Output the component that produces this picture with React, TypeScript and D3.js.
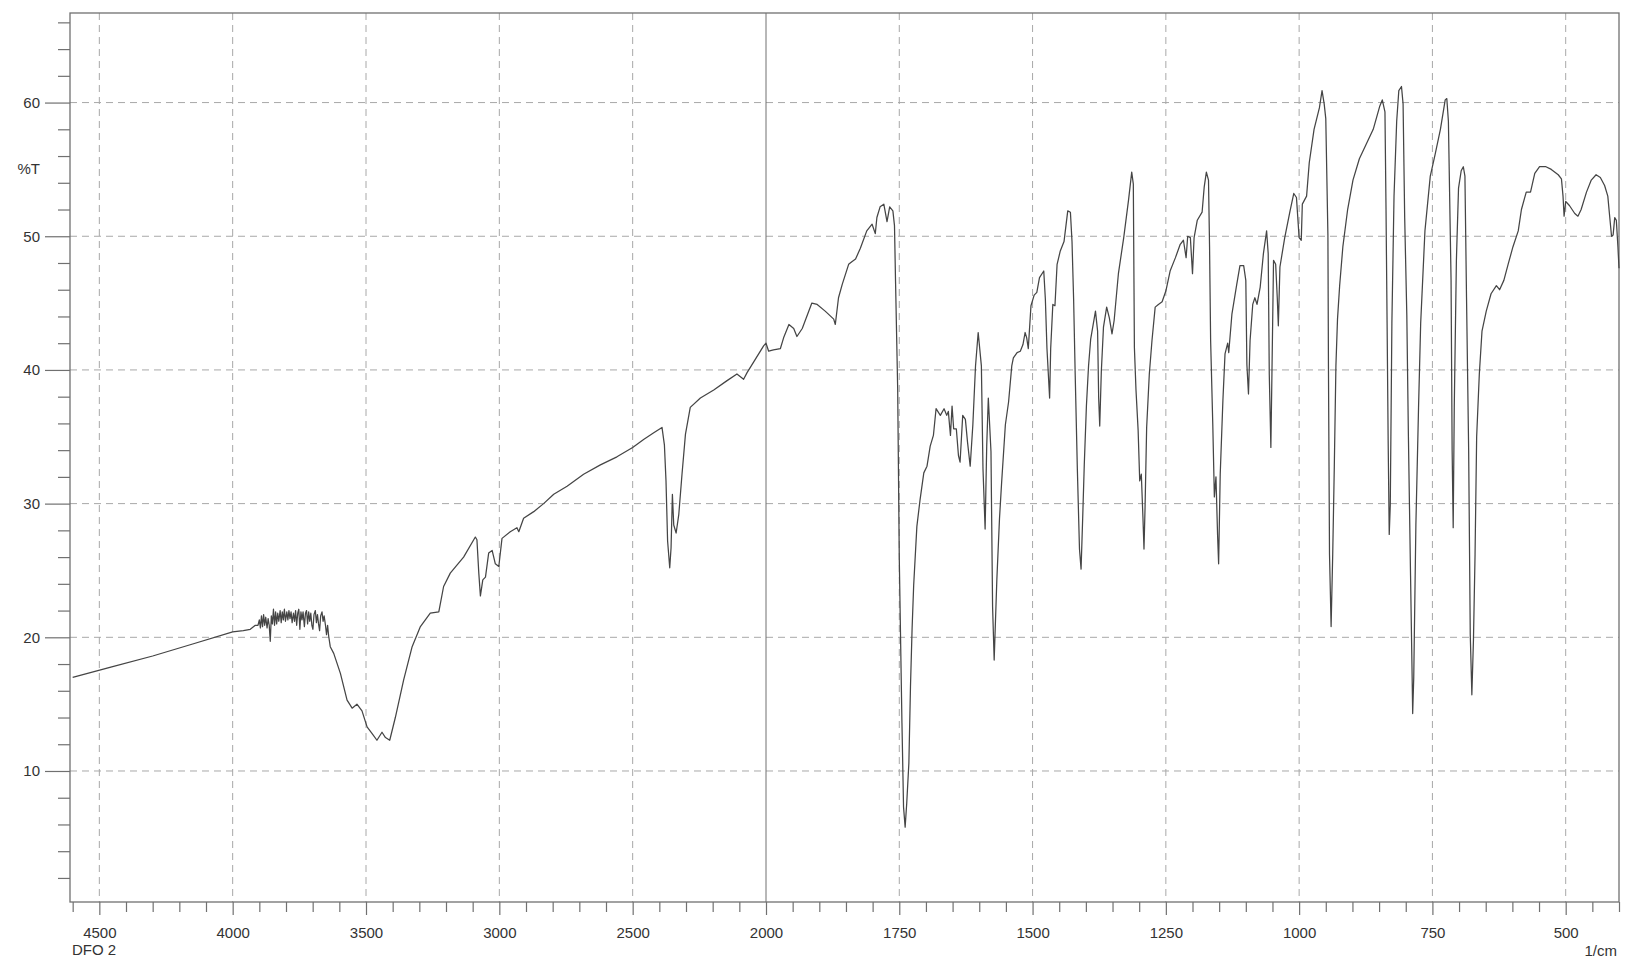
import React, { useEffect, useRef } from 'react';
import * as d3 from 'd3';

const W = 1627, H = 961;
const M = { left: 70, right: 1619, top: 13, bottom: 902, brk: 766 };
const C = { line: '#454545', axis: '#707070', grid: '#a8a8a8', text: '#333' };
const FONT = '"Liberation Sans", Arial, sans-serif';

// wavenumber axis: 4610..2000 at half scale, 2000..400 at double scale
const xDomain = [4610, 2000, 400];
const yDomain = [0.2, 66.7];
const xMajor = [4500, 4000, 3500, 3000, 2500, 2000, 1750, 1500, 1250, 1000, 750, 500];
const yMajor = [10, 20, 30, 40, 50, 60];

// [wavenumber 1/cm, %T]
const spectrum: [number, number][] = [
  [4600, 17.0], [4450, 17.8], [4300, 18.6], [4150, 19.5], [4000, 20.4], [3960, 20.5], [3934, 20.6],
  [3915, 20.9], [3905, 20.9], [3900, 21.3], [3896, 20.7], [3892, 21.6], [3888, 20.8], [3884, 21.7],
  [3880, 20.9], [3876, 21.5], [3871, 20.7], [3867, 21.4], [3863, 20.9], [3859, 19.7], [3855, 21.6],
  [3851, 21.0], [3847, 22.1], [3843, 20.9], [3839, 21.9], [3835, 21.0], [3831, 21.8], [3827, 21.2],
  [3822, 22.0], [3818, 21.1], [3814, 21.9], [3810, 21.3], [3806, 22.1], [3802, 21.2], [3797, 21.9],
  [3793, 21.3], [3789, 22.0], [3785, 21.4], [3781, 21.9], [3777, 21.1], [3772, 21.8], [3768, 21.2],
  [3764, 22.0], [3760, 20.9], [3756, 21.8], [3752, 22.1], [3748, 20.6], [3744, 21.9], [3740, 21.3],
  [3736, 21.9], [3731, 20.8], [3727, 21.8], [3723, 22.0], [3719, 21.0], [3715, 21.9], [3711, 21.2],
  [3707, 21.8], [3703, 20.9], [3699, 20.6], [3695, 21.7], [3690, 22.0], [3686, 21.1], [3682, 21.7],
  [3678, 21.0], [3674, 20.5], [3670, 21.6], [3665, 21.9], [3661, 21.2], [3657, 21.6], [3652, 20.9],
  [3648, 20.2], [3644, 20.9], [3640, 20.1], [3634, 19.3], [3621, 18.8], [3596, 17.3], [3571, 15.3],
  [3552, 14.7], [3534, 15.0], [3515, 14.5],
  [3496, 13.3], [3477, 12.8], [3459, 12.3], [3440, 12.9], [3427, 12.5], [3411, 12.3], [3390, 14.0],
  [3359, 16.8], [3327, 19.3], [3296, 20.8], [3259, 21.8], [3227, 21.9], [3209, 23.8], [3184, 24.8],
  [3134, 26.0], [3090, 27.5], [3084, 27.3], [3077, 24.8], [3071, 23.1], [3062, 24.3], [3052, 24.5],
  [3040, 26.3], [3027, 26.5], [3015, 25.5], [3002, 25.3], [2990, 27.4], [2959, 27.9], [2934, 28.2],
  [2927, 27.9], [2909, 28.9], [2871, 29.4], [2834, 30.0], [2796, 30.7], [2746, 31.3], [2684, 32.2],
  [2621, 32.9], [2559, 33.5], [2500, 34.2], [2459, 34.8], [2421, 35.3], [2390, 35.7], [2381, 34.4],
  [2375, 31.7], [2369, 27.2], [2361, 25.2], [2356, 26.7], [2351, 30.7], [2346, 28.4], [2337, 27.8],
  [2327, 29.2], [2315, 32.2], [2302, 35.2], [2284, 37.2], [2246, 37.9], [2196, 38.5], [2146, 39.2],
  [2109, 39.7], [2084, 39.3], [2071, 39.8], [2046, 40.6], [2009, 41.8], [2000, 42.0], [1995, 41.4],
  [1986, 41.5], [1973, 41.6], [1967, 42.4], [1957, 43.4], [1948, 43.1], [1942, 42.5], [1932, 43.1],
  [1914, 45.0], [1904, 44.9], [1889, 44.4], [1873, 43.8], [1870, 43.4], [1864, 45.4], [1857, 46.4],
  [1845, 47.9], [1839, 48.1], [1832, 48.3], [1823, 49.1], [1811, 50.4], [1801, 50.9], [1795, 50.2],
  [1792, 51.4], [1786, 52.2], [1779, 52.4], [1773, 51.1], [1768, 52.2], [1762, 51.9], [1759, 50.8],
  [1757, 46.6], [1753, 38.6], [1750, 25.9], [1745, 13.6], [1742, 7.3], [1739, 5.8], [1736, 7.6],
  [1732, 10.6], [1729, 16.3], [1726, 20.6], [1723, 23.9], [1717, 28.3], [1711, 30.3], [1704, 32.3],
  [1698, 32.8], [1692, 34.3], [1686, 35.1], [1681, 37.1], [1673, 36.6], [1666, 37.1], [1661, 36.6],
  [1658, 36.9], [1654, 35.1], [1651, 37.3], [1648, 35.6], [1643, 35.6], [1639, 33.6], [1636, 33.1],
  [1631, 36.6], [1626, 36.3], [1622, 34.6], [1617, 32.8], [1612, 35.9], [1607, 40.3], [1602, 42.8],
  [1596, 40.3], [1593, 32.6], [1589, 28.1], [1586, 34.3], [1583, 37.9], [1578, 33.9], [1575, 22.3],
  [1572, 18.3], [1567, 24.3], [1562, 28.9], [1558, 31.6], [1551, 35.9], [1545, 37.6], [1539, 40.3],
  [1536, 40.9], [1529, 41.3], [1523, 41.4], [1518, 41.9], [1514, 42.8], [1511, 42.4], [1508, 41.6],
  [1503, 44.8], [1497, 45.6], [1492, 45.8], [1487, 46.9], [1479, 47.4], [1476, 45.3], [1473, 41.6],
  [1468, 37.9], [1466, 41.6], [1462, 44.9], [1458, 44.8], [1454, 47.9], [1448, 48.9], [1441, 49.6],
  [1434, 51.9], [1429, 51.8], [1426, 49.6], [1423, 45.3], [1420, 39.6], [1416, 32.6], [1412, 26.6],
  [1409, 25.1], [1406, 28.9], [1403, 32.9], [1399, 37.3], [1395, 40.3], [1391, 42.3], [1382, 44.4],
  [1378, 42.9], [1376, 37.9], [1374, 35.8], [1371, 39.9], [1367, 43.2], [1361, 44.7], [1356, 43.9],
  [1351, 42.7], [1347, 43.7], [1339, 47.2], [1329, 49.9], [1320, 52.7], [1314, 54.8], [1311, 53.9],
  [1309, 41.7], [1306, 38.5], [1302, 35.5], [1299, 31.7], [1296, 32.2], [1293, 29.0], [1291, 26.6],
  [1289, 29.7], [1286, 35.7], [1281, 39.7], [1276, 42.2], [1270, 44.7], [1264, 44.9], [1257, 45.1],
  [1250, 45.9], [1242, 47.4], [1232, 48.4], [1223, 49.4], [1217, 49.7], [1212, 48.4], [1209, 50.0],
  [1204, 49.9], [1200, 47.2], [1197, 49.9], [1191, 51.2], [1182, 51.8], [1178, 53.7], [1174, 54.8],
  [1170, 54.2], [1168, 49.2], [1166, 42.2], [1162, 36.0], [1159, 30.5], [1156, 32.0], [1153, 27.7],
  [1151, 25.5], [1148, 32.2], [1143, 37.7], [1139, 41.2], [1134, 42.0], [1132, 41.3], [1126, 44.2],
  [1117, 46.4], [1111, 47.8], [1104, 47.8], [1100, 46.7], [1098, 40.4], [1095, 38.2], [1092, 42.2],
  [1087, 44.9], [1083, 45.4], [1079, 44.9], [1073, 46.2], [1067, 48.7], [1061, 50.4], [1058, 48.7],
  [1056, 39.7], [1053, 34.2], [1051, 39.7], [1048, 48.2], [1044, 47.9], [1041, 45.4], [1039, 43.3],
  [1036, 47.7], [1027, 49.9], [1017, 51.9], [1010, 53.2], [1005, 52.9], [1000, 49.9], [996, 49.7],
  [994, 52.4], [986, 53.0], [981, 55.5], [972, 58.0], [962, 59.6], [957, 60.9], [953, 59.9],
  [950, 58.8], [946, 50.1], [945, 40.3], [943, 26.2], [940, 20.8], [937, 26.2], [934, 32.8],
  [931, 40.3], [928, 43.8], [924, 46.3], [918, 49.2], [909, 52.0], [899, 54.2], [887, 55.8],
  [874, 56.9], [861, 58.0], [849, 59.7], [844, 60.2], [839, 59.3], [837, 52.0], [835, 43.5],
  [833, 34.7], [831, 27.7], [829, 29.9], [826, 43.5], [822, 53.0], [817, 58.6], [813, 60.9],
  [808, 61.2], [805, 59.9], [802, 51.4], [798, 44.1], [795, 35.0], [791, 24.6], [788, 17.0],
  [787, 14.3], [785, 17.0], [781, 28.4], [776, 37.2], [772, 43.5], [764, 50.4], [754, 54.5],
  [745, 56.1], [735, 58.0], [726, 60.2], [723, 60.3], [720, 58.6], [715, 46.7], [713, 34.0],
  [711, 28.2], [709, 37.2], [705, 48.2], [701, 53.6], [696, 54.9], [692, 55.2], [689, 54.5],
  [686, 45.4], [682, 34.0], [679, 20.2], [676, 15.7], [673, 19.8], [670, 26.2], [667, 35.0],
  [662, 39.7], [657, 42.9], [649, 44.4], [640, 45.7], [630, 46.3], [624, 46.0], [616, 46.7],
  [608, 47.9], [599, 49.2], [589, 50.4], [583, 52.0], [574, 53.3], [566, 53.3], [558, 54.7],
  [549, 55.2], [537, 55.2], [527, 55.0], [514, 54.6], [508, 54.3], [505, 53.0], [503, 51.5],
  [500, 52.6], [493, 52.3], [483, 51.7], [477, 51.5], [471, 52.0], [461, 53.3], [452, 54.2],
  [443, 54.6], [435, 54.4], [427, 53.8], [421, 53.0], [418, 51.7], [414, 50.0], [411, 50.1],
  [408, 51.4], [405, 51.2], [402, 49.2], [400, 47.6],
];

export default function App() {
  const ref = useRef<SVGSVGElement>(null);
  useEffect(() => {
    const svg = d3.select(ref.current);
    svg.selectAll('*').remove();
    const x = d3.scaleLinear().domain(xDomain).range([M.left, M.brk, M.right]);
    const y = d3.scaleLinear().domain(yDomain).range([M.bottom, M.top]);

    const xMinor = [...d3.range(4600, 2000, -100), ...d3.range(1950, 399, -50)].filter(v => !xMajor.includes(v));
    const yMinor = d3.range(2, 67, 2).filter(v => v % 10 !== 0);

    // dashed grid
    const grid = svg.append('g').attr('stroke', C.grid).attr('stroke-width', 1).attr('stroke-dasharray', '7,5');
    grid.selectAll('line.v').data(xMajor.filter(v => v !== 2000)).join('line')
      .attr('x1', d => x(d)).attr('x2', d => x(d)).attr('y1', M.top).attr('y2', M.bottom);
    grid.selectAll('line.h').data(yMajor).join('line')
      .attr('y1', d => y(d)).attr('y2', d => y(d)).attr('x1', M.left).attr('x2', M.right);

    // solid line at the scale change
    svg.append('line').attr('x1', x(2000)).attr('x2', x(2000)).attr('y1', M.top).attr('y2', M.bottom)
      .attr('stroke', C.axis).attr('stroke-width', 1);

    const style = (a: any) => {
      a.select('.domain').remove();
      a.selectAll('line').attr('stroke', C.axis).attr('stroke-width', 1.2);
      a.selectAll('text').attr('fill', C.text).attr('font-size', 15).attr('font-family', FONT);
    };
    svg.append('g').attr('transform', `translate(${M.left},0)`)
      .call(d3.axisLeft(y).tickValues(yMinor).tickSize(12).tickFormat(() => '')).call(style);
    svg.append('g').attr('transform', `translate(${M.left},0)`)
      .call(d3.axisLeft(y).tickValues(yMajor).tickSize(25).tickPadding(5)).call(style);
    svg.append('g').attr('transform', `translate(0,${M.bottom})`)
      .call(d3.axisBottom(x).tickValues(xMinor).tickSize(10).tickFormat(() => '')).call(style);
    svg.append('g').attr('transform', `translate(0,${M.bottom})`)
      .call(d3.axisBottom(x).tickValues(xMajor).tickSize(13).tickPadding(12).tickFormat(d3.format('d'))).call(style);

    // frame
    svg.append('rect').attr('x', M.left).attr('y', M.top).attr('width', M.right - M.left).attr('height', M.bottom - M.top)
      .attr('fill', 'none').attr('stroke', C.axis).attr('stroke-width', 1.3);

    // trace
    svg.append('path').datum(spectrum).attr('fill', 'none').attr('stroke', C.line).attr('stroke-width', 1.25)
      .attr('stroke-linejoin', 'round')
      .attr('d', d3.line<[number, number]>().x(d => x(d[0])).y(d => y(d[1])));

    const label = (t: string, px: number, py: number, anchor: string) =>
      svg.append('text').text(t).attr('x', px).attr('y', py).attr('text-anchor', anchor)
        .attr('fill', C.text).attr('font-size', 15).attr('font-family', FONT);
    label('%T', 40, 174, 'end');
    label('DFO 2', 72, 955, 'start');
    label('1/cm', 1617, 956, 'end');
  }, []);
  return <svg ref={ref} width={W} height={H} style={{ position: 'absolute', left: 0, top: 0, background: '#fff' }} />;
}
